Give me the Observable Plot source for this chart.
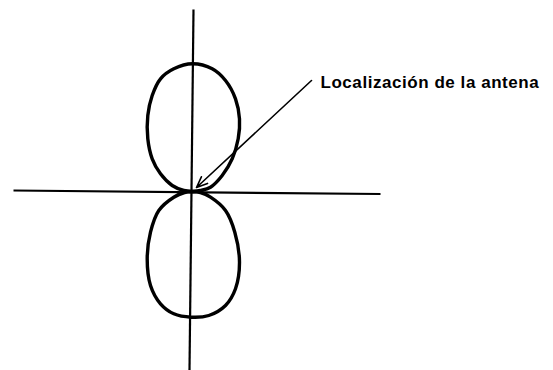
<!DOCTYPE html>
<html>
<head>
<meta charset="utf-8">
<script src="https://cdn.jsdelivr.net/npm/d3@7"></script>
<script src="https://cdn.jsdelivr.net/npm/@observablehq/plot@0.6"></script>
<style>
  html, body { margin: 0; padding: 0; background: #fff; }
  #chart svg { display: block; }
</style>
</head>
<body>
<div id="chart"></div>
<script>
// Upper lobe outline (x, y) in figure units, origin = antenna location, y up
const upperX = [0, 8, 18, 29.7, 39.7, 45.7, 47, 43, 33, 19.7, 0, -18.7, -32, -40.3, -44.7, -44.7, -40.3, -32, -20.3, -8.7, 0];
const upperY = [0, 1, 4.3, 16, 32.7, 52.7, 72.7, 92.7, 111, 122.7, 127.7, 122.7, 112.7, 96, 76, 52.7, 32.7, 17.7, 6, 1, 0];
// Lower lobe outline
const lowerX = [0, 8, 18, 33, 42.3, 47, 43, 33, 16.3, -1.3, -18.7, -32, -42, -45.3, -42, -33.7, -18.7, -8, 0];
const lowerY = [0, -1, -5.7, -19, -40.7, -70.7, -97.3, -114, -124, -125.7, -122.3, -112.3, -94, -67.3, -40.7, -19, -5.7, -1, 0];
// Axis lines (end points)
const axisX1 = [-179, 1];
const axisY1 = [1, 182];
const axisX2 = [188, -3];
const axisY2 = [-2.5, -179];
// Annotation
const labelText = ["Localización de la antena"];
const labelX = [128];
const labelY = [104];
const arrowFrom = [119, 111];
const arrowTo = [4, 4];

const lobes = [
  ...upperX.map((x, i) => ({lobe: "upper", x, y: upperY[i]})),
  ...lowerX.map((x, i) => ({lobe: "lower", x, y: lowerY[i]}))
];
const axes = axisX1.map((x1, i) => ({x1, y1: axisY1[i], x2: axisX2[i], y2: axisY2[i]}));

const chart = Plot.plot({
  width: 553,
  height: 370,
  margin: 0,
  x: {domain: [-192, 361], axis: null},
  y: {domain: [-179, 191], axis: null},
  style: {background: "#fff"},
  marks: [
    Plot.link(axes, {x1: "x1", y1: "y1", x2: "x2", y2: "y2", stroke: "#000", strokeWidth: 2.2}),
    Plot.line(lobes, {x: "x", y: "y", z: "lobe", curve: "catmull-rom", stroke: "#000", strokeWidth: 3.4}),
    Plot.arrow([{x1: arrowFrom[0], y1: arrowFrom[1], x2: arrowTo[0], y2: arrowTo[1]}],
      {x1: "x1", y1: "y1", x2: "x2", y2: "y2", stroke: "#000", strokeWidth: 1.6, headLength: 11, headAngle: 45}),
    Plot.text(labelText.map((t, i) => ({t, x: labelX[i], y: labelY[i]})),
      {x: "x", y: "y", text: "t", textAnchor: "start", lineAnchor: "bottom", fontSize: 17, fontWeight: "bold",
       fontFamily: "Liberation Sans, Arial, sans-serif", fill: "#000"})
  ]
});
d3.select(chart).selectAll("text").attr("letter-spacing", "0.55px");
document.getElementById("chart").appendChild(chart);
</script>
</body>
</html>
